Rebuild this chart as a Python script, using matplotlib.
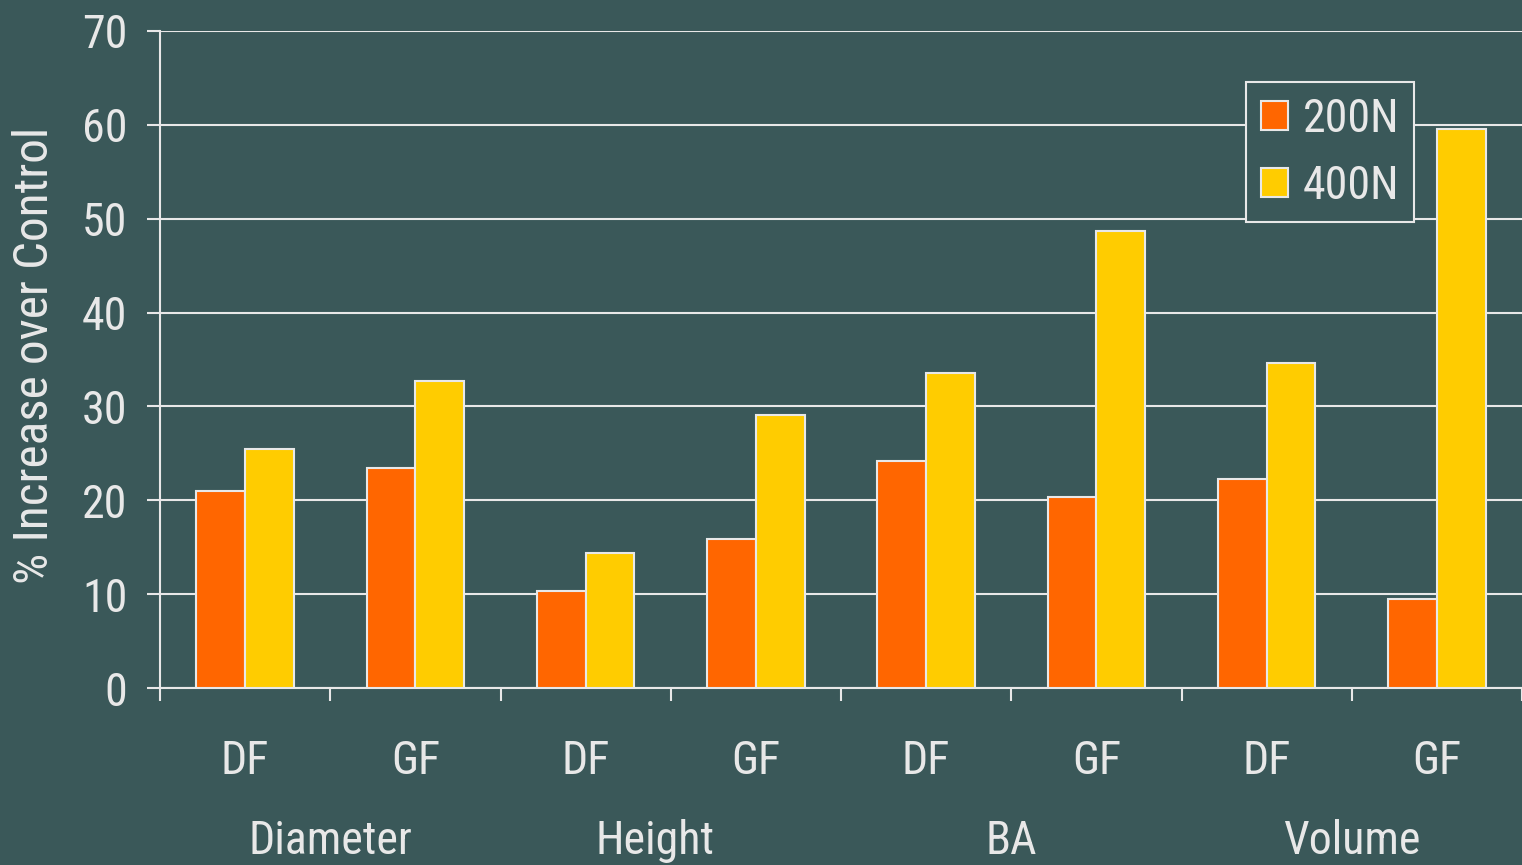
import matplotlib.pyplot as plt
import numpy as np

#bar values (% increase over control) for each measure / fertilizer combination
groups = ['Diameter', 'Height', 'BA', 'Volume']
subgroups = ['DF', 'GF']
series_names = ['200N', '400N']
vals_200N = [21.0, 23.4, 10.3, 15.9, 24.2, 20.3, 22.3, 9.5]
vals_400N = [25.5, 32.7, 14.4, 29.1, 33.6, 48.7, 34.6, 59.6]
yticks = [0, 10, 20, 30, 40, 50, 60, 70]

#colours and fonts
bg = '#3a5859'
fg = '#e8e8e8'
col_200 = '#ff6600'
col_400 = '#ffcc00'
plt.rcParams['font.family'] = ['Roboto Condensed', 'DejaVu Sans']
fsize = 33

fig = plt.figure(figsize=(15.22, 8.65), dpi=100)
fig.patch.set_facecolor(bg)
ax = fig.add_axes([160/1522, 1-688/865, 1-160/1522, 657/865])
ax.set_facecolor(bg)

#one slot per DF/GF column, two bars per slot
n = len(vals_200N)
centers = np.arange(n) + 0.5
bw = 0.287
ax.bar(centers - bw/2, vals_200N, bw, color=col_200, edgecolor=fg, linewidth=1.5, label=series_names[0], zorder=3)
ax.bar(centers + bw/2, vals_400N, bw, color=col_400, edgecolor=fg, linewidth=1.5, label=series_names[1], zorder=3)

ax.set_xlim(0, 7.98)
ax.set_ylim(0, 70)

#y axis with horizontal gridlines
ax.set_yticks(yticks)
ax.set_yticklabels([str(t) for t in yticks], fontsize=fsize, color=fg)
ax.yaxis.grid(True, color=fg, linewidth=1.5, zorder=0)
ax.set_axisbelow(True)

#category boundary ticks on the x axis, labels drawn as text below
ax.set_xticks(np.arange(n + 1))
ax.set_xticklabels([])
ax.tick_params(axis='both', colors=fg, length=9.5, width=1.5, direction='out')
ax.tick_params(axis='y', pad=14)
for s in ['top', 'right']:
    ax.spines[s].set_visible(False)
for s in ['left', 'bottom']:
    ax.spines[s].set_color(fg)
    ax.spines[s].set_linewidth(1.5)

trans = ax.get_xaxis_transform()
for i, c in enumerate(centers):
    ax.text(c, -0.1309, subgroups[i % 2], transform=trans, ha='center', va='baseline',
            fontsize=fsize, color=fg, clip_on=False)
group_pos = [1.0, 2.91, 5.0, 7.0]
for g, gx in zip(groups, group_pos):
    ax.text(gx, -0.2527, g, transform=trans, ha='center', va='baseline',
            fontsize=fsize, color=fg, clip_on=False)

fig.text(35/1522, 1-355/865, '% Increase over Control', rotation=90, ha='center', va='center',
         fontsize=35.5, color=fg)

leg = ax.legend(loc='upper left', bbox_to_anchor=(1246/1522, 1-82/865), bbox_transform=fig.transFigure,
                fontsize=fsize, handlelength=0.6, handleheight=0.6, handletextpad=0.32,
                labelspacing=0.5, borderpad=0.32, borderaxespad=0, fancybox=False,
                facecolor=bg, edgecolor=fg, framealpha=1, labelcolor=fg)
leg.get_frame().set_linewidth(1.5)

fig.savefig('out.png', dpi=100, facecolor=bg)
